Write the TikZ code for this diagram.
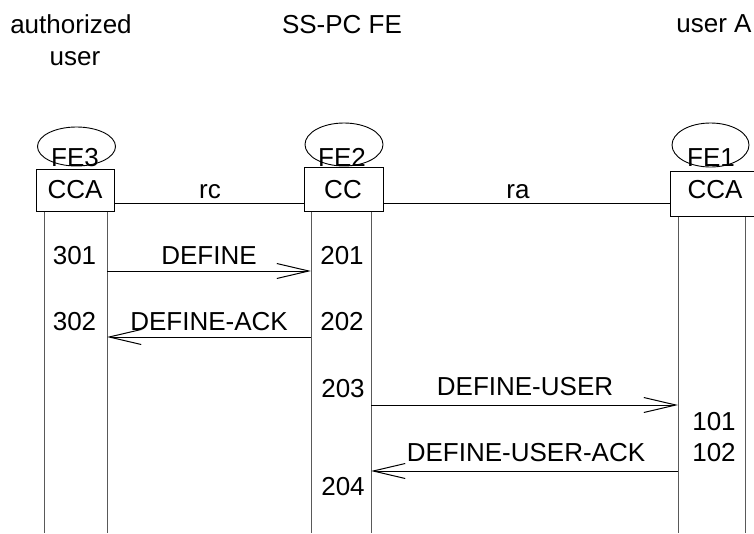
\documentclass[tikz,border=0pt]{standalone}
\usepackage{fontspec}
\setmainfont{Liberation Sans}
\usetikzlibrary{arrows.meta,shapes.geometric}
\begin{document}
\begin{tikzpicture}[x=1pt,y=-1pt,
  font=\fontsize{26}{30}\selectfont,
  boxnode/.style={draw, line width=1pt, inner sep=0pt},
  fenode/.style={draw, ellipse, line width=0.9pt, inner sep=0pt},
  lbl/.style={anchor=base, inner sep=0pt},
  life/.style={draw=black!65, line width=1pt},
  link/.style={line width=1pt},
  msg/.style={line width=1pt, -{Straight Barb[length=32pt,width=15pt,line width=1pt]}}]
\useasboundingbox (0,0) rectangle (754,533);
\clip (0,0) rectangle (754,533);

% titles
\node[lbl] (h3a) at (71,33) {authorized};
\node[lbl] (h3b) at (75,65) {user};
\node[lbl] (h2) at (342,33) {SS-PC FE};
\node[lbl] (h1) at (714,32) {user A};

% ellipses
\node[fenode, minimum width=78, minimum height=39] (e3) at (76.5,146.5) {};
\node[fenode, minimum width=78, minimum height=43] (e2) at (344,144.5) {};
\node[fenode, minimum width=77, minimum height=44] (e1) at (710.5,145) {};

% boxes
\node[boxnode, minimum width=78, minimum height=42] (b3) at (75,190) {};
\node[boxnode, minimum width=79, minimum height=44] (b2) at (343.5,189) {};
\node[boxnode, minimum width=90, minimum height=45] (b1) at (715,193.5) {};

% FE / box texts
\node[lbl] (f3) at (75,166) {FE3};
\node[lbl] (f2) at (342,166) {FE2};
\node[lbl] (f1) at (711,166) {FE1};
\node[lbl] (c3) at (75,198) {CCA};
\node[lbl] (c2) at (343,198) {CC};
\node[lbl] (c1) at (715,198) {CCA};

% links between boxes
\coordinate (ly) at (0,203);
\draw[link] (b3.east |- ly) -- (b2.west |- ly);
\draw[link] (b2.east |- ly) -- (b1.west |- ly);
\node[lbl] (rc) at (210,198) {rc};
\node[lbl] (ra) at (518,198) {ra};

% lifelines
\coordinate (L3a) at (44,533);
\coordinate (L3b) at (107,533);
\coordinate (L2a) at (311,533);
\coordinate (L2b) at (371,533);
\coordinate (L1a) at (678,533);
\coordinate (L1b) at (745,533);
\draw[life] (L3a |- b3.south) -- (L3a);
\draw[life] (L3b |- b3.south) -- (L3b);
\draw[life] (L2a |- b2.south) -- (L2a);
\draw[life] (L2b |- b2.south) -- (L2b);
\draw[life] (L1a |- b1.south) -- (L1a);
\draw[life] (L1b |- b1.south) -- (L1b);

% messages
\coordinate (m1) at (0,271);
\coordinate (m2) at (0,337);
\coordinate (m3) at (0,405);
\coordinate (m4) at (0,471);
\draw[msg] (L3b |- m1) -- (L2a |- m1);
\draw[msg] (L2a |- m2) -- (L3b |- m2);
\draw[msg] (L2b |- m3) -- (L1a |- m3);
\draw[msg] (L1a |- m4) -- (L2b |- m4);

\node[lbl] (n301) at (74.5,264) {301};
\node[lbl] (d1) at (209,264) {DEFINE};
\node[lbl] (n201) at (342,264) {201};
\node[lbl] (n302) at (74.5,330) {302};
\node[lbl] (d2) at (209,330) {DEFINE-ACK};
\node[lbl] (n202) at (342,330) {202};
\node[lbl] (n203) at (343,397) {203};
\node[lbl] (d3) at (525,395) {DEFINE-USER};
\node[lbl] (n101) at (714,430) {101};
\node[lbl] (n102) at (714,461) {102};
\node[lbl] (d4) at (526,461) {DEFINE-USER-ACK};
\node[lbl] (n204) at (343,495) {204};
\end{tikzpicture}
\end{document}
